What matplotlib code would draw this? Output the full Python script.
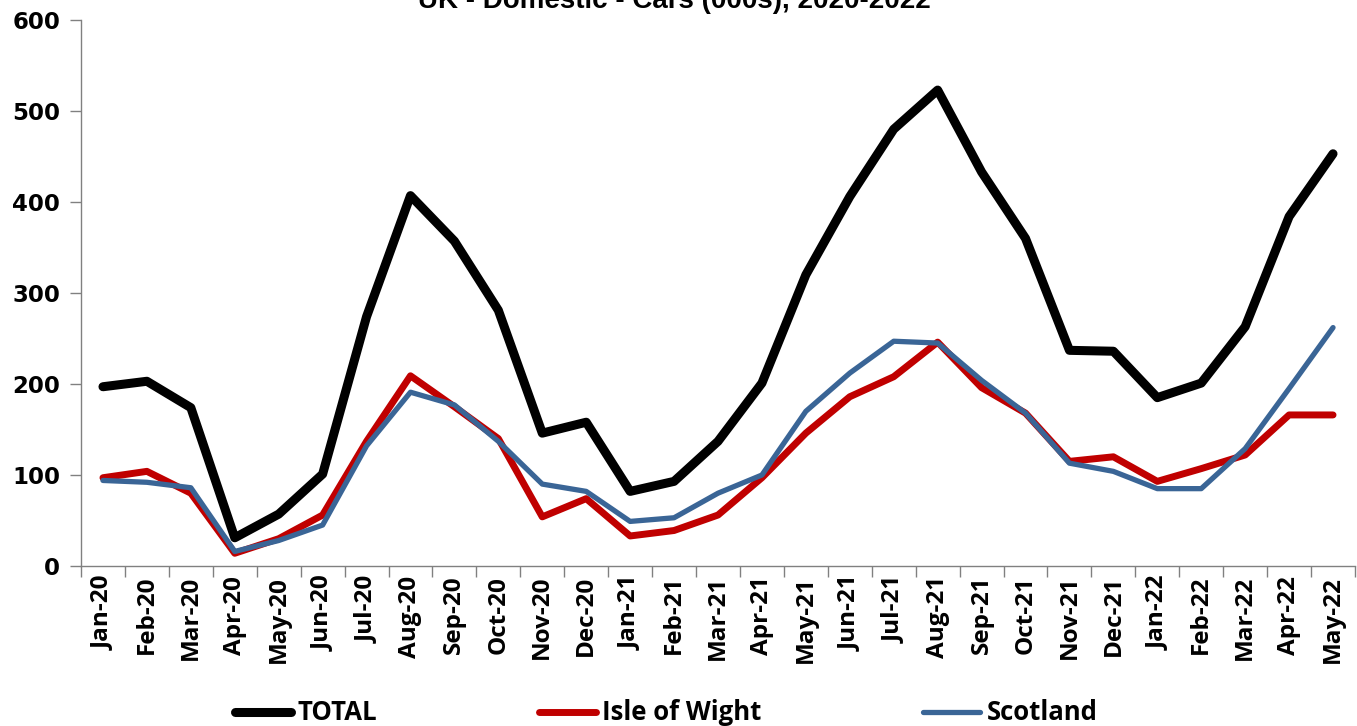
import matplotlib

matplotlib.use("Agg")
import matplotlib.pyplot as plt
import numpy as np

months = [
    "Jan-20", "Feb-20", "Mar-20", "Apr-20", "May-20", "Jun-20", "Jul-20", "Aug-20",
    "Sep-20", "Oct-20", "Nov-20", "Dec-20", "Jan-21", "Feb-21", "Mar-21", "Apr-21",
    "May-21", "Jun-21", "Jul-21", "Aug-21", "Sep-21", "Oct-21", "Nov-21", "Dec-21",
    "Jan-22", "Feb-22", "Mar-22", "Apr-22", "May-22",
]
total = [197, 203, 174, 31, 57, 101, 274, 407, 357, 281, 146, 158, 82, 93, 137, 201,
         320, 406, 480, 523, 433, 360, 237, 236, 185, 201, 263, 384, 453]
isle_of_wight = [97, 104, 80, 14, 30, 56, 137, 209, 175, 140, 54, 74, 33, 39, 56, 97,
                 146, 186, 208, 246, 196, 168, 115, 120, 93, 107, 122, 166, 166]
scotland = [94, 92, 86, 16, 28, 45, 132, 191, 177, 137, 90, 82, 49, 53, 80, 100,
            170, 212, 247, 245, 204, 168, 113, 104, 85, 85, 129, 195, 262]

W, H = 1357, 726
fig = plt.figure(figsize=(W / 100, H / 100), dpi=100)
ax = fig.add_axes([81 / W, 1 - 566 / H, (1355 - 81) / W, (566 - 20) / H])

x = np.arange(len(months))
kw = dict(solid_joinstyle="round", solid_capstyle="round")
ax.plot(x, total, color="#000000", lw=6.5, label="TOTAL", **kw)
ax.plot(x, isle_of_wight, color="#C00000", lw=5.0, label="Isle of Wight", **kw)
ax.plot(x, scotland, color="#3A6596", lw=3.8, label="Scotland", **kw)

ax.set_xlim(-0.5, len(months) - 0.5)
ax.set_ylim(0, 600)
ax.set_yticks(range(0, 601, 100))

# category labels at centres, tick marks at boundaries
ax.set_xticks(x)
ax.set_xticklabels(months, rotation=90, fontsize=17.5, fontweight="bold", family="Open Sans")
ax.set_xticks(np.arange(len(months) + 1) - 0.5, minor=True)
ax.tick_params(axis="x", which="major", length=0, pad=7)
ax.tick_params(axis="x", which="minor", length=8, width=1, color="#808080", direction="out")
ax.tick_params(axis="y", length=8, width=1, color="#808080", pad=7)
for lab in ax.get_yticklabels():
    lab.set_fontsize(16.5)
    lab.set_fontweight("bold")
    lab.set_family("DejaVu Sans")

for s in ("top", "right"):
    ax.spines[s].set_visible(False)
for s in ("left", "bottom"):
    ax.spines[s].set_color("#808080")
    ax.spines[s].set_linewidth(1)

fig.text(0.497, 1 - 8 / H, "UK - Domestic - Cars (000s), 2020-2022", ha="center",
         va="baseline", fontsize=20, fontweight="bold", family="Liberation Sans")

leg = fig.legend(loc="center", bbox_to_anchor=(666 / W, 1 - 713 / H), ncol=3,
                 frameon=False, handlelength=2.2, handletextpad=0.25, columnspacing=6.3,
                 prop=dict(family="Open Sans", weight="bold", size=18.5))

fig.savefig("out.png", dpi=100)
